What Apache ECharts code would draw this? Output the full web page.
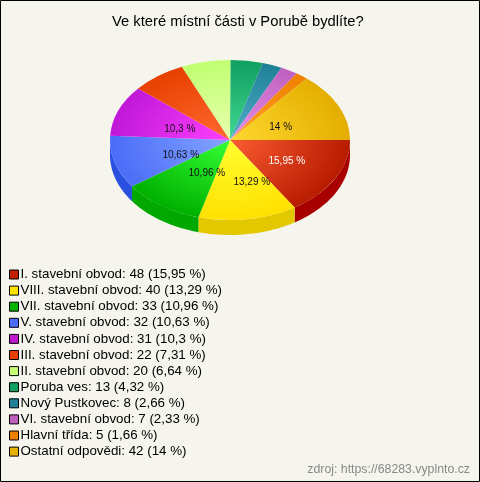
<!DOCTYPE html>
<html><head><meta charset="utf-8">
<style>html,body{margin:0;padding:0;background:#f5f5ee}#c{width:480px;height:482px}</style>
<script src="https://cdn.jsdelivr.net/npm/echarts@6/dist/echarts.min.js"></script>
</head><body><div id="c"></div>
<script>
const categories = ['I. stavební obvod','VIII. stavební obvod','VII. stavební obvod','V. stavební obvod','IV. stavební obvod','III. stavební obvod','II. stavební obvod','Poruba ves','Nový Pustkovec','VI. stavební obvod','Hlavní třída','Ostatní odpovědi'];
const counts = [48,40,33,32,31,22,20,13,8,7,5,42];
const percents = ['15,95','13,29','10,96','10,63','10,3','7,31','6,64','4,32','2,66','2,33','1,66','14'];
const legendColors = ['#c02000','#ffe400','#00b400','#4a6cf8','#c018d0','#e84000','#c4ff70','#10a060','#208098','#c060c0','#f08000','#e8b000'];
const innerColors = ['#fa5c32','#ffff30','#34ff34','#84a4ff','#ff40ff','#ff6a30','#e8ffb0','#40d890','#50b0c8','#e890e8','#ffa020','#ffd830'];
const outerColors = ['#b81c00','#ffe000','#00b000','#4a6cf8','#c018d8','#e84000','#c0ff70','#10a060','#208098','#c060c0','#f08000','#e4ae00'];
const wallColors = ['#a80000','#e3c800','#00a800','#2a50e0','#a000b0','#c03000','#a0d860','#008040','#106070','#a040a0','#c06000','#c09000'];
const labelNudge = {0:[0,1],1:[12,0],2:[14,-2],3:[13,3],4:[10,5],11:[-8,6]};

const CX=230, CY=140, RX=120, RY=80, DEPTH=15, START=0;
const total = counts.reduce((a,b)=>a+b,0);
function render(i){
  return function(params, api){
    let before=0; for(let k=0;k<i;k++) before+=counts[k];
    const a0=START+before/total*2*Math.PI, a1=a0+counts[i]/total*2*Math.PI;
    const children=[];
    const w0=Math.max(a0,0), w1=Math.min(a1,Math.PI);
    if(w1>w0){
      const top=[],bot=[];
      for(let s=0;s<=40;s++){
        const t=w0+(w1-w0)*s/40;
        const x=CX+RX*Math.cos(t), y=CY+RY*Math.sin(t);
        top.push([x,y]); bot.unshift([x,y+DEPTH]);
      }
      children.push({type:'polygon',shape:{points:top.concat(bot)},style:{fill:wallColors[i]}});
    }
    children.push({type:'group',x:CX,y:CY,scaleY:RY/RX,children:[{
      type:'sector',
      shape:{cx:0,cy:0,r0:0,r:RX,startAngle:a0,endAngle:a1,clockwise:true},
      style:{fill:new echarts.graphic.RadialGradient(0,0,RX,[{offset:0,color:innerColors[i]},{offset:1,color:outerColors[i]}],true)}
    }]});
    if(labelNudge[i]){
      const m=(a0+a1)/2, n=labelNudge[i];
      children.push({type:'text',z2:100,
        x:CX+0.54*RX*Math.cos(m)+n[0], y:CY+0.54*RY*Math.sin(m)+n[1],
        style:{text:percents[i]+' %',font:'10px "Liberation Sans"',align:'center',verticalAlign:'middle',fill:i===0?'#ffffff':'#111111'}});
    }
    return {type:'group',children};
  };
}
const names = categories.map((c,i)=>`${c}: ${counts[i]} (${percents[i]} %)`);
const chart = echarts.init(document.getElementById('c'),null,{renderer:'canvas'});
chart.setOption({
  animation:false,
  backgroundColor:'#f5f5ee',
  title:{text:'Ve které místní části v Porubě bydlíte?',left:112,top:14,padding:0,textStyle:{fontFamily:'Liberation Sans',fontSize:14.75,fontWeight:'normal',color:'#000'}},
  legend:{orient:'vertical',left:9,top:267,padding:0,itemWidth:9,itemHeight:9,itemGap:1.1,icon:'rect',selectedMode:false,
    itemStyle:{borderColor:'#000',borderWidth:1},
    textStyle:{fontFamily:'Liberation Sans',fontSize:13.33,lineHeight:15,color:'#000',padding:[0,0,0,-3]},
    data:names.map((n,i)=>({name:n,itemStyle:{color:legendColors[i]}}))},
  graphic:[
    {type:'rect',z:-1,shape:{x:0.5,y:0.5,width:479,height:481},style:{fill:'none',stroke:'#000',lineWidth:1}},
    {type:'text',right:10,top:464,style:{text:'zdroj: https://68283.vyplnto.cz',font:'12.3px "Liberation Sans"',fill:'#888'}}
  ],
  series:names.map((n,i)=>({type:'custom',name:n,coordinateSystem:'none',silent:true,color:legendColors[i],data:[counts[i]],renderItem:render(i)}))
});
</script></body></html>
